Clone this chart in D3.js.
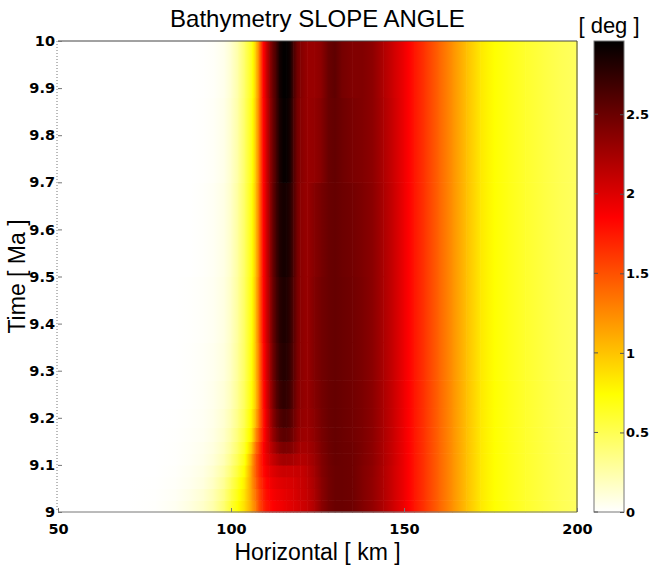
<!DOCTYPE html>
<html>
  <head>
    <meta charset="UTF-8" />
    <script src="https://d3js.org/d3.v7.min.js"></script>
    <style>
      body { margin: 0; background: #fff; }
      text { font-family: "Liberation Sans", Arial, sans-serif; }
      .tick text { font-family: "DejaVu Sans", sans-serif; font-weight: bold; font-size: 14.5px; fill: #000; }
      .cbaxis .tick text { font-size: 13px; }
    </style>
  </head>
  <body>
    <div id="chart"></div>
    <script>
      // grille : noeuds en x (km) et bornes des lignes en temps (Ma)
      const xKm = [50,70,78,84,88,92,95,98,100,102,104,106,107,108,109,110,111,112,113,114,115,116,117,118,119,
                   120,122,124,126,128,130,132,135,138,141,144,147,150,153,156,160,164,168,172,176,180,185,190,195,200];
      const timeMa = [9.0, 9.025, 9.05, 9.075, 9.1, 9.125, 9.15, 9.18, 9.22, 9.28, 9.36, 9.5, 9.7, 9.88, 10.0];

      // pente (deg), une ligne par intervalle de temps (du bas vers le haut)
      // partie commune a droite (150 -> 200 km)
      const slopeTail = [1.92,1.76,1.62,1.42,1.22,1.02,0.84,0.74,0.68,0.61,0.55,0.5,0.46];
      const slope_9000 = [0,0,0.01,0.04,0.09,0.16,0.25,0.42,0.6,0.74,0.9,
        1.15,1.3,1.5,1.65,1.75,1.8,1.85,1.88,1.9,1.92,1.95,1.97,2.0,2.02,
        2.05,2.1,2.2,2.35,2.45,2.5,2.5,2.48,2.4,2.32,2.2,2.06];
      const slope_9025 = [0,0,0.005,0.03,0.07,0.13,0.22,0.37,0.54,0.7,0.88,
        1.18,1.35,1.52,1.68,1.78,1.84,1.88,1.91,1.93,1.95,1.97,1.99,2.01,2.04,
        2.07,2.11,2.21,2.35,2.45,2.5,2.5,2.48,2.4,2.32,2.2,2.06];
      const slope_9050 = [0,0,0.003,0.02,0.05,0.1,0.18,0.32,0.48,0.65,0.84,
        1.2,1.4,1.58,1.72,1.82,1.88,1.93,1.96,1.98,2.0,2.01,2.02,2.03,2.06,
        2.08,2.13,2.23,2.36,2.45,2.5,2.5,2.48,2.4,2.32,2.2,2.06];
      const slope_9075 = [0,0,0,0.015,0.04,0.08,0.15,0.27,0.41,0.58,0.78,
        1.2,1.45,1.62,1.78,1.87,1.94,1.99,2.03,2.06,2.08,2.08,2.08,2.08,2.1,
        2.1,2.15,2.25,2.38,2.46,2.5,2.5,2.48,2.4,2.33,2.2,2.06];
      const slope_9100 = [0,0,0,0.01,0.03,0.065,0.12,0.22,0.35,0.51,0.71,
        1.15,1.45,1.62,1.8,1.92,2.02,2.1,2.16,2.22,2.25,2.25,2.24,2.22,2.2,
        2.18,2.2,2.28,2.39,2.47,2.51,2.5,2.48,2.41,2.34,2.21,2.07];
      const slope_9125 = [0,0,0,0.008,0.025,0.055,0.1,0.19,0.3,0.45,0.64,
        1.0,1.35,1.55,1.8,1.95,2.08,2.2,2.3,2.38,2.42,2.42,2.4,2.35,2.3,
        2.24,2.24,2.31,2.41,2.48,2.52,2.5,2.48,2.42,2.34,2.21,2.07];
      const slope_9150 = [0,0,0,0.005,0.02,0.04,0.08,0.16,0.26,0.4,0.58,
        0.85,1.2,1.45,1.72,1.93,2.12,2.3,2.42,2.52,2.56,2.56,2.52,2.44,2.36,
        2.3,2.27,2.34,2.43,2.49,2.52,2.5,2.47,2.42,2.35,2.22,2.08];
      const slope_9180 = [0,0,0,0.003,0.015,0.035,0.07,0.14,0.23,0.36,0.53,
        0.8,1.05,1.35,1.68,1.92,2.15,2.35,2.5,2.6,2.65,2.65,2.6,2.5,2.4,
        2.33,2.29,2.36,2.44,2.5,2.52,2.5,2.47,2.42,2.35,2.22,2.08];
      const slope_9220 = [0,0,0,0,0.01,0.03,0.06,0.12,0.2,0.33,0.5,
        0.75,0.98,1.3,1.7,1.95,2.2,2.4,2.58,2.7,2.75,2.74,2.68,2.55,2.42,
        2.35,2.3,2.38,2.45,2.5,2.52,2.5,2.47,2.42,2.35,2.22,2.08];
      const slope_9280 = [0,0,0,0,0.008,0.025,0.05,0.1,0.18,0.31,0.48,
        0.74,1.0,1.32,1.72,1.97,2.22,2.45,2.62,2.75,2.8,2.79,2.72,2.58,2.44,
        2.36,2.3,2.4,2.46,2.5,2.52,2.5,2.47,2.42,2.35,2.22,2.08];
      const slope_9360 = [0,0,0,0,0.005,0.02,0.04,0.09,0.17,0.3,0.48,
        0.73,1.0,1.35,1.75,2.0,2.25,2.48,2.65,2.78,2.83,2.82,2.75,2.6,2.45,
        2.36,2.3,2.4,2.46,2.5,2.52,2.5,2.47,2.42,2.35,2.22,2.08];
      const slope_9500 = [0,0,0,0,0,0.015,0.035,0.08,0.16,0.29,0.47,
        0.72,0.98,1.32,1.75,2.0,2.27,2.5,2.68,2.82,2.87,2.86,2.8,2.63,2.46,
        2.36,2.3,2.38,2.44,2.5,2.52,2.49,2.46,2.41,2.35,2.22,2.08];
      const slope_9700 = [0,0,0,0,0,0.01,0.025,0.07,0.15,0.27,0.46,
        0.7,0.96,1.3,1.75,2.0,2.28,2.48,2.66,2.85,2.93,2.93,2.86,2.64,2.46,
        2.38,2.3,2.32,2.38,2.5,2.53,2.48,2.43,2.4,2.34,2.21,2.07];
      const slope_9880 = [0,0,0,0,0,0.005,0.02,0.06,0.14,0.26,0.45,
        0.68,0.94,1.28,1.75,2.02,2.3,2.5,2.66,2.88,2.95,2.95,2.9,2.66,2.48,
        2.4,2.3,2.3,2.35,2.5,2.55,2.45,2.4,2.4,2.34,2.2,2.06];
      const slopeRows = [slope_9000, slope_9025, slope_9050, slope_9075, slope_9100, slope_9125, slope_9150,
        slope_9180, slope_9220, slope_9280, slope_9360, slope_9500, slope_9700, slope_9880]
        .map((r) => r.concat(slopeTail));

      const xTicks = [50, 100, 150, 200];
      const yTicks = [9, 9.1, 9.2, 9.3, 9.4, 9.5, 9.6, 9.7, 9.8, 9.9, 10];
      const cbTicks = [0, 0.5, 1, 1.5, 2, 2.5];
      const vMax = 2.96;

      const width = 650, height = 571;
      const plot = { left: 58, right: 577, top: 41, bottom: 512 };
      const cb = { left: 594, right: 624 };

      const svg = d3.select("#chart").append("svg")
        .attr("width", width).attr("height", height);
      const defs = svg.append("defs");

      const x = d3.scaleLinear().domain([50, 200]).range([plot.left, plot.right]);
      const y = d3.scaleLinear().domain([9, 10]).range([plot.bottom, plot.top]);
      const cy = d3.scaleLinear().domain([0, vMax]).range([plot.bottom, plot.top]);

      // colormap "hot" inversée : blanc -> jaune -> rouge -> noir
      const breaks = [0, 0.25 * vMax, 0.625 * vMax, vMax];
      const color = d3.scaleLinear().domain(breaks)
        .range(["#ffffff", "#ffff00", "#ff0000", "#000000"]).clamp(true);

      // cellules : dégradé horizontal entre deux noeuds (avec les cassures de la colormap)
      const cells = [];
      slopeRows.forEach((row, r) => {
        for (let i = 0; i < xKm.length - 1; i++) {
          cells.push({ r: r, i: i, v0: row[i], v1: row[i + 1] });
        }
      });

      cells.forEach((c) => {
        const g = defs.append("linearGradient")
          .attr("id", "g" + c.r + "_" + c.i)
          .attr("x1", "0%").attr("x2", "100%").attr("y1", "0%").attr("y2", "0%");
        const stops = [[0, c.v0]];
        const lo = Math.min(c.v0, c.v1), hi = Math.max(c.v0, c.v1);
        breaks.forEach((b) => {
          if (b > lo && b < hi) stops.push([(b - c.v0) / (c.v1 - c.v0), b]);
        });
        stops.push([1, c.v1]);
        stops.sort((a, b) => a[0] - b[0]);
        g.selectAll("stop").data(stops).join("stop")
          .attr("offset", (d) => d[0])
          .attr("stop-color", (d) => color(d[1]));
      });

      svg.append("g")
        .selectAll("rect")
        .data(cells)
        .join("rect")
        .attr("x", (d) => x(xKm[d.i]))
        .attr("width", (d) => x(xKm[d.i + 1]) - x(xKm[d.i]) + 0.6)
        .attr("y", (d) => y(timeMa[d.r + 1]))
        .attr("height", (d) => y(timeMa[d.r]) - y(timeMa[d.r + 1]) + 0.6)
        .attr("fill", (d) => "url(#g" + d.r + "_" + d.i + ")");

      // cadre du graphique
      const frame = svg.append("g").attr("fill", "none");
      frame.append("line").attr("x1", plot.left).attr("x2", plot.right)
        .attr("y1", plot.top).attr("y2", plot.top).attr("stroke", "#444");
      frame.append("line").attr("x1", plot.left).attr("x2", plot.right)
        .attr("y1", plot.bottom).attr("y2", plot.bottom).attr("stroke", "#777");
      frame.append("line").attr("x1", plot.right).attr("x2", plot.right)
        .attr("y1", plot.top).attr("y2", plot.bottom).attr("stroke", "#444");
      frame.append("line").attr("x1", plot.left - 1).attr("x2", plot.left - 1)
        .attr("y1", plot.top).attr("y2", plot.bottom)
        .attr("stroke", "#777").attr("stroke-dasharray", "1,2");

      const xAxis = svg.append("g")
        .attr("transform", "translate(0," + plot.bottom + ")")
        .call(d3.axisBottom(x).tickValues(xTicks).tickFormat(d3.format("d"))
          .tickSizeInner(-4).tickSizeOuter(0).tickPadding(12));
      xAxis.select(".domain").remove();
      xAxis.selectAll(".tick line").attr("stroke", "#777");

      const yAxis = svg.append("g")
        .attr("transform", "translate(" + plot.left + ",0)")
        .call(d3.axisLeft(y).tickValues(yTicks).tickFormat((d) => d3.format("")(+d.toFixed(1)))
          .tickSizeInner(-4).tickSizeOuter(0).tickPadding(3));
      yAxis.select(".domain").remove();
      yAxis.selectAll(".tick line").attr("stroke", "#777");

      // barre de couleur
      const cbGrad = defs.append("linearGradient").attr("id", "cbGrad")
        .attr("x1", "0%").attr("x2", "0%").attr("y1", "100%").attr("y2", "0%");
      cbGrad.selectAll("stop").data(breaks).join("stop")
        .attr("offset", (d) => d / vMax)
        .attr("stop-color", (d) => color(d));
      svg.append("rect")
        .attr("x", cb.left).attr("y", cy(vMax))
        .attr("width", cb.right - cb.left).attr("height", cy(0) - cy(vMax))
        .attr("fill", "url(#cbGrad)").attr("stroke", "#777");

      const cbAxis = svg.append("g")
        .attr("class", "cbaxis")
        .attr("transform", "translate(" + cb.right + ",0)")
        .call(d3.axisRight(cy).tickValues(cbTicks).tickFormat((d) => d3.format("")(d))
          .tickSizeInner(-4).tickSizeOuter(0).tickPadding(2));
      cbAxis.select(".domain").remove();
      cbAxis.selectAll(".tick line").attr("stroke", "#555");
      svg.append("g").selectAll("line").data(cbTicks).join("line")
        .attr("x1", cb.left).attr("x2", cb.left + 4)
        .attr("y1", (d) => cy(d)).attr("y2", (d) => cy(d))
        .attr("stroke", "#555");

      // textes
      svg.append("text").attr("x", (plot.left + plot.right) / 2).attr("y", 27)
        .attr("text-anchor", "middle").style("font-size", "24px")
        .text("Bathymetry SLOPE ANGLE");
      svg.append("text").attr("x", 609).attr("y", 33)
        .attr("text-anchor", "middle").style("font-size", "22px")
        .text("[ deg ]");
      svg.append("text").attr("x", (plot.left + plot.right) / 2).attr("y", 560)
        .attr("text-anchor", "middle").style("font-size", "23px")
        .text("Horizontal [ km ]");
      svg.append("text")
        .attr("transform", "translate(25," + (plot.top + plot.bottom) / 2 + ") rotate(-90)")
        .attr("text-anchor", "middle").style("font-size", "23px")
        .text("Time [ Ma ]");
    </script>
  </body>
</html>
